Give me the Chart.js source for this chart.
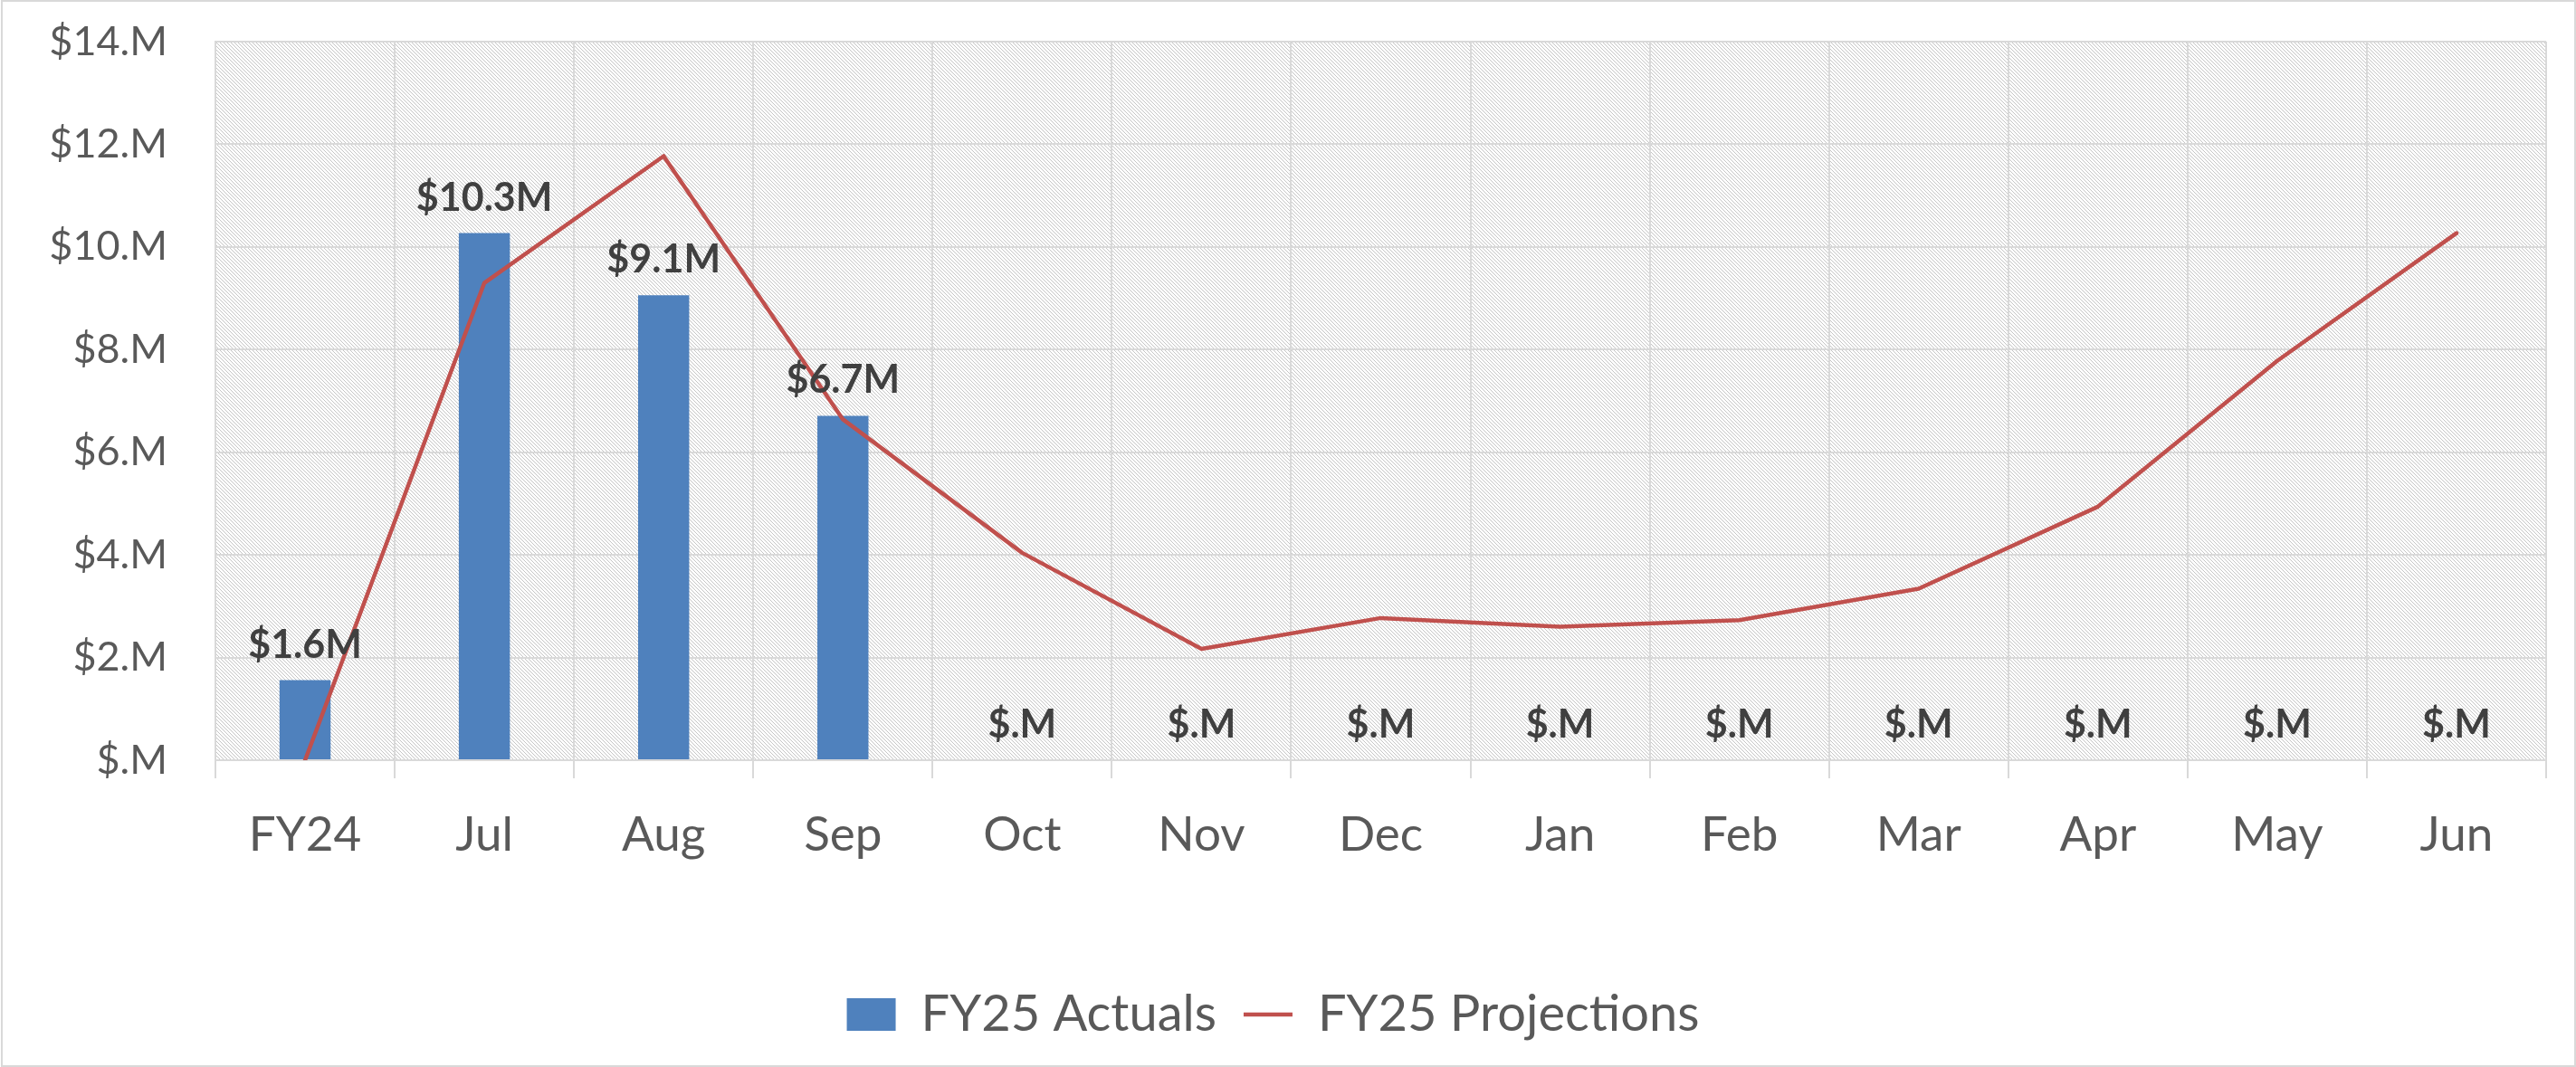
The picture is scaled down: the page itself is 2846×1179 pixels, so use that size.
<!DOCTYPE html>
<html>
<head>
<meta charset="utf-8">
<script src="https://cdn.jsdelivr.net/npm/chart.js@4"></script>
<style>
  html, body { margin: 0; padding: 0; background: #fff; }
  #wrap { width: 2846px; height: 1179px; position: relative; }
</style>
</head>
<body>
<div id="wrap"><canvas id="myChart"></canvas></div>
<script>
// values in $ millions
const months = ["FY24", "Jul", "Aug", "Sep", "Oct", "Nov", "Dec", "Jan", "Feb", "Mar", "Apr", "May", "Jun"];
const actuals = [1.56, 10.27, 9.06, 6.71, 0, 0, 0, 0, 0, 0, 0, 0, 0];
const projections = [0, 9.30, 11.77, 6.64, 4.04, 2.17, 2.77, 2.60, 2.73, 3.34, 4.94, 7.78, 10.27];
const yTicks = [0, 2, 4, 6, 8, 10, 12, 14];

function money(v) {
  if (!v) return "$.M";
  return "$" + v.toFixed(1) + "M";
}

// light diagonal hatch for the plot area
function makeHatch() {
  var c = document.createElement("canvas");
  c.width = 8;
  c.height = 8;
  var g = c.getContext("2d");
  g.fillStyle = "#ffffff";
  g.fillRect(0, 0, 8, 8);
  g.fillStyle = "#c4c4c4";
  for (var i = 0; i < 8; i++) {
    g.fillRect(i, i, 1, 1);
    g.fillRect((i + 4) % 8, i, 1, 1);
  }
  return c;
}
const hatch = makeHatch();

const background = {
  id: "background",
  beforeDraw: function (chart) {
    var ctx = chart.ctx, a = chart.chartArea;
    ctx.save();
    ctx.fillStyle = "#ffffff";
    ctx.fillRect(0, 0, chart.width, chart.height);
    ctx.fillStyle = ctx.createPattern(hatch, "repeat");
    ctx.fillRect(a.left, a.top, a.right - a.left, a.bottom - a.top);
    ctx.restore();
  },
  afterDraw: function (chart) {
    var ctx = chart.ctx;
    ctx.save();
    ctx.strokeStyle = "#d9d9d9";
    ctx.lineWidth = 2;
    ctx.strokeRect(2, 1, chart.width - 3, chart.height - 2);
    ctx.restore();
  }
};

const barLabels = {
  id: "barLabels",
  afterDatasetsDraw: function (chart) {
    var ctx = chart.ctx;
    var meta = chart.getDatasetMeta(0);
    ctx.save();
    ctx.font = "bold 43px Lato";
    ctx.fillStyle = "#404040";
    ctx.textAlign = "center";
    ctx.textBaseline = "alphabetic";
    meta.data.forEach(function (bar, i) {
      ctx.fillText(money(actuals[i]), bar.x, bar.y - 25);
    });
    ctx.restore();
  }
};

Chart.defaults.font.family = "Lato";
Chart.defaults.color = "#595959";

const ctx = document.getElementById("myChart");
const myChart = new Chart(ctx, {
  type: "bar",
  data: {
    labels: months,
    datasets: [
      {
        label: "FY25 Actuals",
        data: actuals,
        backgroundColor: "#4F81BD",
        borderWidth: 0,
        barPercentage: 0.285,
        categoryPercentage: 1,
        order: 1,
      },
      {
        type: "line",
        label: "FY25 Projections",
        data: projections,
        borderColor: "#C0504D",
        backgroundColor: "#C0504D",
        borderWidth: 4.5,
        borderCapStyle: "round",
        borderJoinStyle: "round",
        pointRadius: 0,
        tension: 0,
        order: 0,
      },
    ],
  },
  options: {
    responsive: true,
    maintainAspectRatio: false,
    animation: false,
    layout: {
      padding: { top: 46, right: 33, bottom: 20, left: 0 },
    },
    scales: {
      x: {
        grid: { color: "#d9d9d9", lineWidth: 2, tickLength: 20, offset: true },
        border: { color: "#d9d9d9", width: 2 },
        ticks: { font: { size: 53 }, color: "#595959", padding: 31 },
        afterFit: function (scale) { scale.height = 223; },
      },
      y: {
        min: 0,
        max: 14,
        grid: { color: "#d9d9d9", lineWidth: 2, drawTicks: false },
        border: { color: "#d9d9d9", width: 2 },
        afterBuildTicks: function (scale) {
          scale.ticks = yTicks.map(function (v) { return { value: v }; });
        },
        ticks: {
          font: { size: 45 },
          color: "#595959",
          padding: 53,
          callback: function (v) { return v === 0 ? "$.M" : "$" + v + ".M"; },
        },
        afterFit: function (scale) {
          scale.width = 238;
          scale.paddingTop = 0;
          scale.paddingBottom = 0;
        },
      },
    },
    plugins: {
      tooltip: { enabled: false },
      legend: {
        position: "bottom",
        labels: {
          font: { size: 56 },
          color: "#595959",
          usePointStyle: true,
          pointStyleWidth: 54,
          boxHeight: 36,
          padding: 30,
          sort: function (a, b) { return a.datasetIndex - b.datasetIndex; },
          generateLabels: function (chart) {
            var items = Chart.defaults.plugins.legend.labels.generateLabels(chart);
            items.forEach(function (item) {
              item.pointStyle = item.datasetIndex === 0 ? "rect" : "line";
            });
            return items;
          },
        },
      },
    },
  },
  plugins: [background, barLabels],
});
</script>
</body>
</html>
